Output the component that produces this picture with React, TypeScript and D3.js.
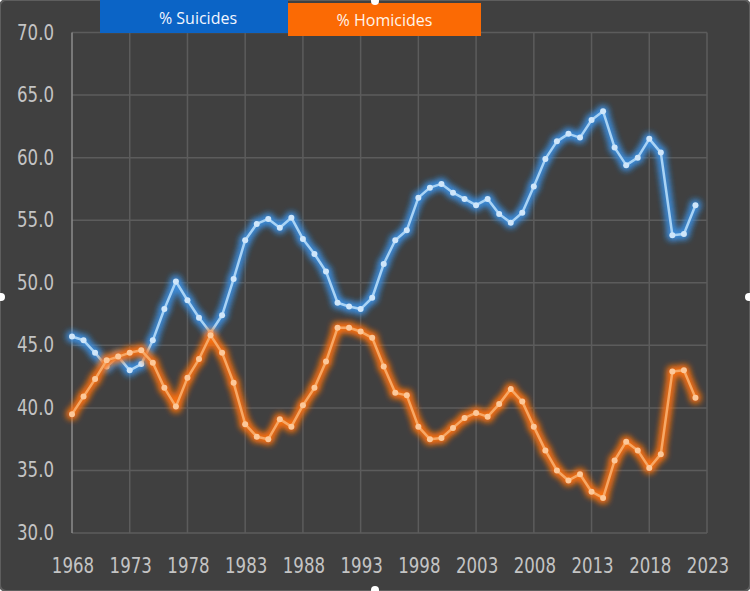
import * as React from "react"
import * as d3 from "d3"

const years = d3.range(1968, 2023)

const suicides = [
  45.7, 45.4, 44.4, 43.3, 44.1, 43.0, 43.5, 45.4, 47.9, 50.1,
  48.6, 47.2, 46.0, 47.4, 50.3, 53.4, 54.7, 55.1, 54.4, 55.2,
  53.5, 52.3, 50.9, 48.4, 48.1, 47.9, 48.8, 51.5, 53.4, 54.2,
  56.8, 57.6, 57.9, 57.2, 56.7, 56.2, 56.7, 55.5, 54.8, 55.6,
  57.7, 59.9, 61.3, 61.9, 61.6, 63.0, 63.7, 60.8, 59.4, 60.0,
  61.5, 60.4, 53.8, 53.9, 56.2,
]

const homicides = [
  39.5, 40.9, 42.3, 43.8, 44.1, 44.4, 44.6, 43.6, 41.6, 40.1,
  42.4, 43.9, 45.8, 44.4, 42.0, 38.7, 37.7, 37.5, 39.1, 38.5,
  40.2, 41.6, 43.7, 46.4, 46.4, 46.1, 45.6, 43.3, 41.2, 41.0,
  38.5, 37.5, 37.6, 38.4, 39.2, 39.6, 39.3, 40.3, 41.5, 40.5,
  38.5, 36.6, 35.0, 34.2, 34.7, 33.3, 32.8, 35.8, 37.3, 36.6,
  35.2, 36.3, 42.9, 43.0, 40.8,
]

const yTicks = [30, 35, 40, 45, 50, 55, 60, 65, 70]
const xTicks = d3.range(1968, 2024, 5)

const series = [
  { name: "% Suicides", values: suicides, core: "#a9d3f5", glow: "#3d8fe0", dot: "#cfe6fa", box: "#0b64c6" },
  { name: "% Homicides", values: homicides, core: "#f7a866", glow: "#ff7212", dot: "#fcc89a", box: "#fb6a04" },
]

export default function App() {
  const [w, h] = [750, 591]
  const m = { left: 72, right: 43, top: 32.5, bottom: 58 }

  const x = d3.scaleLinear().domain([1968, 2023]).range([m.left, w - m.right])
  const y = d3.scaleLinear().domain([30, 70]).range([h - m.bottom, m.top])

  const line = d3.line<number>()
    .x((_, i) => x(years[i]))
    .y(d => y(d))

  const labelFont = "'DejaVu Sans Condensed', 'DejaVu Sans', sans-serif"
  const squeeze = 0.84

  return (
    <svg width={w} height={h} style={{ position: "absolute", left: 0, top: 0 }}>
      <defs>
        {series.map((s, i) => (
          <filter key={i} id={`glow${i}`} x="-10%" y="-10%" width="120%" height="120%">
            <feGaussianBlur in="SourceGraphic" stdDeviation="3.5" result="b" />
            <feMerge>
              <feMergeNode in="b" />
              <feMergeNode in="b" />
            </feMerge>
          </filter>
        ))}
      </defs>
      <rect x={0} y={0} width={w} height={h} rx={6} fill="#404040" stroke="#5e5e5e" strokeWidth={2} />

      {/* grid */}
      {yTicks.map(t => (
        <line key={t} x1={m.left} x2={w - m.right} y1={y(t)} y2={y(t)} stroke="#5c5c5c" strokeWidth={1.5} />
      ))}
      {xTicks.map(t => (
        <line key={t} x1={x(t)} x2={x(t)} y1={m.top} y2={h - m.bottom}
          stroke={t === 1968 ? "#8c8c8c" : "#5c5c5c"} strokeWidth={1.5} />
      ))}

      {yTicks.map(t => (
        <text key={t} transform={`translate(54,${y(t) + 7}) scale(${squeeze},1)`} textAnchor="end"
          fontSize={22} fill="#c4c4c4" fontFamily={labelFont}>
          {t.toFixed(1)}
        </text>
      ))}
      {xTicks.map(t => (
        <text key={t} transform={`translate(${x(t) + 1},573) scale(${squeeze},1)`} textAnchor="middle"
          fontSize={22} fill="#c4c4c4" fontFamily={labelFont}>
          {t}
        </text>
      ))}

      {series.map((s, i) => (
        <g key={i}>
          <g filter={`url(#glow${i})`}>
            <path d={line(s.values) ?? ""} fill="none" stroke={s.glow} strokeWidth={6} />
            {s.values.map((v, j) => (
              <circle key={j} cx={x(years[j])} cy={y(v)} r={4.5} fill={s.glow} />
            ))}
          </g>
          <path d={line(s.values) ?? ""} fill="none" stroke={s.core} strokeWidth={2.5} strokeLinejoin="round" />
          {s.values.map((v, j) => (
            <circle key={j} cx={x(years[j])} cy={y(v)} r={3} fill={s.dot} />
          ))}
        </g>
      ))}

      {/* legend boxes */}
      <rect x={100} y={0} width={188} height={33} fill={series[0].box} />
      <text x={198} y={24} textAnchor="middle" fontSize={16} fill="#f2f6ff" fontFamily="'Open Sans', sans-serif">
        {series[0].name}
      </text>
      <rect x={288} y={3} width={193} height={33} fill={series[1].box} />
      <text x={384.5} y={26} textAnchor="middle" fontSize={16} fill="#fff4ea" fontFamily="'Open Sans', sans-serif">
        {series[1].name}
      </text>

      {/* frame handles */}
      {[[375, 1], [1, 297], [749, 297], [375, 590]].map(([cx, cy], i) => (
        <circle key={i} cx={cx} cy={cy} r={4} fill="#ffffff" />
      ))}
    </svg>
  )
}
